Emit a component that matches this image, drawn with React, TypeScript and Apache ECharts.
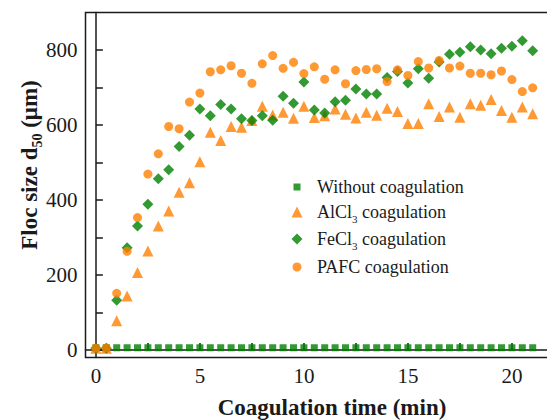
import React, { useEffect, useRef } from "react";
import * as echarts from "echarts";

const time = [0, 0.5, 1, 1.5, 2, 2.5, 3, 3.5, 4, 4.5, 5, 5.5, 6, 6.5, 7, 7.5, 8, 8.5, 9, 9.5, 10, 10.5, 11, 11.5, 12, 12.5, 13, 13.5, 14, 14.5, 15, 15.5, 16, 16.5, 17, 17.5, 18, 18.5, 19, 19.5, 20, 20.5, 21];
const without = [6, 6, 6, 6, 6, 6, 6, 6, 6, 6, 6, 6, 6, 6, 6, 6, 6, 6, 6, 6, 6, 6, 6, 6, 6, 6, 6, 6, 6, 6, 6, 6, 6, 6, 6, 6, 6, 6, 6, 6, 6, 6, 6];
const alcl3 = [5, 5, 78, 144, 207, 264, 331, 371, 421, 446, 502, 581, 559, 596, 594, 612, 650, 627, 634, 618, 650, 620, 625, 643, 629, 619, 634, 626, 645, 636, 604, 604, 657, 623, 648, 621, 657, 653, 668, 639, 621, 648, 630];
const fecl3 = [5, 5, 133, 273, 331, 389, 457, 481, 543, 573, 643, 625, 655, 643, 617, 612, 625, 613, 677, 658, 715, 640, 632, 662, 666, 696, 683, 683, 727, 743, 712, 750, 725, 768, 789, 794, 809, 800, 790, 805, 810, 825, 798];
const pafc = [5, 5, 151, 263, 353, 469, 523, 596, 590, 661, 685, 742, 747, 758, 738, 711, 763, 785, 751, 767, 737, 755, 722, 747, 710, 745, 748, 750, 716, 747, 732, 769, 752, 772, 752, 757, 738, 738, 734, 744, 721, 689, 699];

const xLabels = [0, 5, 10, 15, 20];
const xTicks = [0, 2.5, 5, 7.5, 10, 12.5, 15, 17.5, 20];
const yLabels = [0, 200, 400, 600, 800];
const yTicks = [0, 100, 200, 300, 400, 500, 600, 700, 800];

const names = ["Without coagulation", "AlCl3 coagulation", "FeCl3 coagulation", "PAFC coagulation"];

const GREEN = "#008000";
const ORANGE = "#FF8000";
const FONT = "Liberation Serif";
const INK = "#1a1a1a";

export default function App() {
  const ref = useRef<HTMLDivElement>(null);
  useEffect(() => {
    if (!ref.current) return;
    const chart = echarts.init(ref.current, undefined, { renderer: "svg" });
    const pts = (ys: number[]) => time.map((t, i) => [t, ys[i]]);
    const rowY = [185, 210, 237, 265];
    const legendSizes = [7, 11, 11, 9];
    const rich = {
      a: { fontFamily: FONT, fontSize: 18, color: INK, lineHeight: 24 },
      s: { fontFamily: FONT, fontSize: 11, color: INK, lineHeight: 24, verticalAlign: "bottom" as const },
    };
    const fmt = (n: string) => {
      if (n.startsWith("AlCl3")) return "{a|AlCl}{s|3}{a| coagulation}";
      if (n.startsWith("FeCl3")) return "{a|FeCl}{s|3}{a| coagulation}";
      return "{a|" + n + "}";
    };
    const legends = names.map((n, i) => {
      const s = legendSizes[i];
      return {
        data: [n],
        orient: "vertical",
        left: 292 - s / 2,
        top: rowY[i] - 12,
        itemWidth: s,
        itemHeight: s,
        itemGap: 0,
        selectedMode: false,
        formatter: fmt,
        textStyle: { fontFamily: FONT, fontSize: 18, color: INK, padding: [0, 0, 0, 15 - s / 2], rich },
      };
    });
    chart.setOption({
      animation: false,
      backgroundColor: "#fff",
      textStyle: { fontFamily: FONT, color: INK },
      grid: {
        left: 85.5,
        top: 12.5,
        width: 468,
        height: 345,
        outerBoundsMode: "none",
        containLabel: false,
        show: true,
        borderColor: INK,
        borderWidth: 1.5,
        backgroundColor: "transparent",
      },
      legend: legends,
      xAxis: {
        type: "value",
        min: -0.5,
        max: 22,
        axisLine: { show: true, lineStyle: { color: INK, width: 1.5 } },
        splitLine: { show: false },
        axisTick: { show: true, inside: true, length: 7, customValues: xTicks, lineStyle: { color: INK, width: 1.5 } },
        axisLabel: { customValues: xLabels, fontFamily: FONT, fontSize: 21, color: INK, margin: 8 },
      },
      yAxis: {
        type: "value",
        min: -20,
        max: 900,
        axisLine: { show: true, lineStyle: { color: INK, width: 1.5 } },
        splitLine: { show: false },
        axisTick: { show: true, inside: true, length: 7, customValues: yTicks, lineStyle: { color: INK, width: 1.5 } },
        axisLabel: { customValues: yLabels, fontFamily: FONT, fontSize: 21, color: INK, margin: 8 },
      },
      graphic: [
        {
          type: "text",
          x: 332,
          y: 407,
          style: {
            text: "Coagulation time (min)",
            fontFamily: FONT,
            fontWeight: "bold",
            fontSize: 23,
            fill: INK,
            textAlign: "center",
            textVerticalAlign: "middle",
          },
        },
        {
          type: "text",
          x: 29,
          y: 165,
          rotation: Math.PI / 2,
          style: {
            text: "{b|Floc size d}{t|50}{b| (μm)}",
            fontFamily: FONT,
            fontWeight: "bold",
            fontSize: 23,
            fill: INK,
            textAlign: "center",
            textVerticalAlign: "middle",
            rich: {
              b: { fontFamily: FONT, fontWeight: "bold", fontSize: 23, fill: INK, lineHeight: 30 },
              t: { fontFamily: FONT, fontWeight: "bold", fontSize: 14, fill: INK, lineHeight: 30, verticalAlign: "bottom" },
            },
          },
        },
      ],
      series: [
        { name: names[0], type: "scatter", symbol: "rect", symbolSize: 7, itemStyle: { color: GREEN }, data: pts(without) },
        { name: names[1], type: "scatter", symbol: "triangle", symbolSize: 11, itemStyle: { color: ORANGE }, data: pts(alcl3) },
        { name: names[2], type: "scatter", symbol: "diamond", symbolSize: 11, itemStyle: { color: GREEN }, data: pts(fecl3) },
        { name: names[3], type: "scatter", symbol: "circle", symbolSize: 9, itemStyle: { color: ORANGE }, data: pts(pafc) },
      ],
    });
    return () => chart.dispose();
  }, []);
  return <div ref={ref} style={{ width: 547, height: 420, position: "absolute", left: 0, top: 0 }} />;
}
